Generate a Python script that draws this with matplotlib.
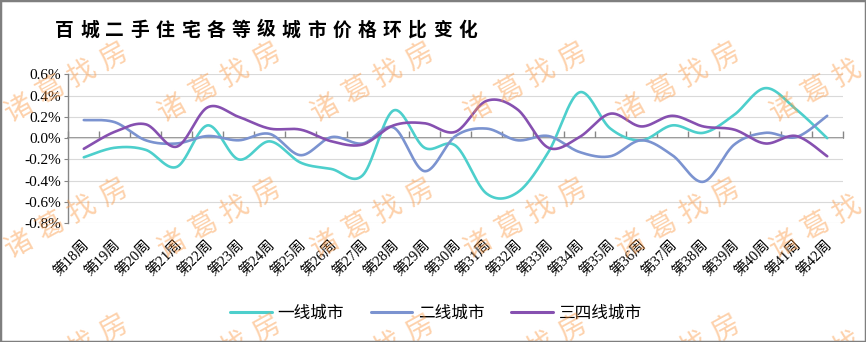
import numpy as np
import matplotlib
matplotlib.use("Agg")
import matplotlib.pyplot as plt
from matplotlib.patches import Rectangle
from matplotlib.transforms import ScaledTranslation

plt.rcParams['axes.unicode_minus'] = False

# ---------------- data ----------------
weeks = [f"第{w}周" for w in range(18, 43)]
tier1 = [-0.18, -0.09, -0.11, -0.27, 0.12, -0.20, -0.03, -0.23, -0.29, -0.35,
         0.26, -0.09, -0.07, -0.52, -0.51, -0.13, 0.43, 0.09, -0.02, 0.12,
         0.05, 0.22, 0.47, 0.27, 0.00]
tier2 = [0.17, 0.15, -0.02, -0.05, 0.02, -0.02, 0.04, -0.16, 0.01, -0.05,
         0.10, -0.31, 0.02, 0.09, -0.02, 0.02, -0.13, -0.17, -0.02, -0.16,
         -0.41, -0.06, 0.05, 0.01, 0.21]
tier34 = [-0.10, 0.06, 0.13, -0.08, 0.29, 0.20, 0.09, 0.08, -0.03, -0.06,
          0.12, 0.14, 0.06, 0.35, 0.27, -0.09, 0.01, 0.23, 0.11, 0.21,
          0.11, 0.08, -0.05, 0.02, -0.17]
series_names = ["一线城市", "二线城市", "三四线城市"]
yticks = [-0.8, -0.6, -0.4, -0.2, 0.0, 0.2, 0.4, 0.6]
title = "百城二手住宅各等级城市价格环比变化"
watermark = "诸葛找房"

colors = ["#4DCFCC", "#7B93D0", "#8650B0"]

W, H = 866, 342
fig = plt.figure(figsize=(W / 100, H / 100), dpi=100)
fig.patch.set_facecolor("white")

ax = fig.add_axes([68.3 / W, 1 - 223.3 / H, (842.7 - 68.3) / W, (223.3 - 74.3) / H])


def smooth(vals, n=40):
    pts = np.column_stack([np.arange(len(vals)), np.asarray(vals, float)])
    m = len(pts)
    out = []
    t = np.linspace(0, 1, n)[:, None]
    for i in range(m - 1):
        p0 = pts[max(i - 1, 0)]
        p1 = pts[i]
        p2 = pts[i + 1]
        p3 = pts[min(i + 2, m - 1)]
        c1 = p1 + (p2 - p0) / 6
        c2 = p2 - (p3 - p1) / 6
        seg = (1 - t) ** 3 * p1 + 3 * (1 - t) ** 2 * t * c1 + 3 * (1 - t) * t ** 2 * c2 + t ** 3 * p2
        out.append(seg if i == 0 else seg[1:])
    return np.vstack(out)


for vals, col, name in zip([tier1, tier2, tier34], colors, series_names):
    s = smooth(vals)
    ax.plot(s[:, 0], s[:, 1], color=col, lw=1.9, label=name, zorder=3,
            solid_capstyle="round")

ax.set_xlim(-0.5, len(weeks) - 0.5)
ax.set_ylim(-0.8, 0.6)
ax.set_yticks(yticks)
ax.set_yticklabels([f"{v:.1f}%" for v in yticks], family="Liberation Serif", fontsize=11)
ax.yaxis.grid(True, color="#D9D9D9", lw=0.8)
ax.set_axisbelow(True)
ax.tick_params(axis="y", direction="out", length=3, color="#868686", pad=2)

ax.set_xticks(range(len(weeks)))
ax.set_xticklabels(weeks, rotation=45, ha="right", va="center", rotation_mode="anchor",
                   family=["Liberation Serif", "Noto Sans CJK SC"], fontsize=10.5)
ax.tick_params(axis="x", length=0, pad=14)
for lbl in ax.get_xticklabels():
    lbl.set_transform(lbl.get_transform() + ScaledTranslation(0.03, 0, fig.dpi_scale_trans))

for sp in ["top", "right", "bottom"]:
    ax.spines[sp].set_visible(False)
ax.spines["left"].set_color("#868686")
ax.spines["left"].set_linewidth(1.0)

# zero line with category-boundary ticks
sec = ax.secondary_xaxis(0.8 / 1.4)
bounds = np.arange(-0.5, len(weeks), 1.0)
sec.set_xticks(bounds)
sec.set_xticklabels([""] * len(bounds))
sec.xaxis.set_ticks_position("top")
sec.tick_params(axis="x", which="both", direction="out", length=5, color="#868686",
                width=1.0, labeltop=False, labelbottom=False)
for sp in sec.spines.values():
    sp.set_color("#868686")
    sp.set_linewidth(1.2)

# legend
leg = fig.legend(loc="center", bbox_to_anchor=(436 / W, 1 - 313 / H), ncol=3, frameon=False,
                 prop={"family": "Noto Sans CJK SC", "size": 12}, handlelength=2.5,
                 handletextpad=0.35, columnspacing=1.6)
for line in leg.get_lines():
    line.set_linewidth(2.2)

# title (character spacing)
for i, ch in enumerate(title):
    fig.text((55 + 25.2 * i) / W, 1 - 30 / H, ch, family="Noto Sans CJK SC",
             fontweight="bold", fontsize=13.5, ha="left", va="center", color="black")

# watermark
ang = np.deg2rad(29)
pitch = 36
for r in range(-1, 3):
    cy = 82 + 136 * r
    for c in range(-1, 7):
        cx = 66 + 153 * c
        for k, ch in enumerate(watermark):
            d = (k - 1.5) * pitch
            x = cx + d * np.cos(ang)
            y = cy - d * np.sin(ang)
            if not (-8 < x < W + 8 and -8 < y < H + 8):
                continue
            fig.text(x / W, 1 - y / H, ch, family="Noto Sans CJK SC", fontsize=20,
                     color="#FB9A46", alpha=0.45, rotation=29, ha="center", va="center",
                     rotation_mode="anchor", zorder=10)

fig.patches.append(Rectangle((0, 0), 1, 1, transform=fig.transFigure, fill=False,
                             edgecolor="#7F7F7F", linewidth=2.5, zorder=20))

fig.savefig("out.png", dpi=100)
